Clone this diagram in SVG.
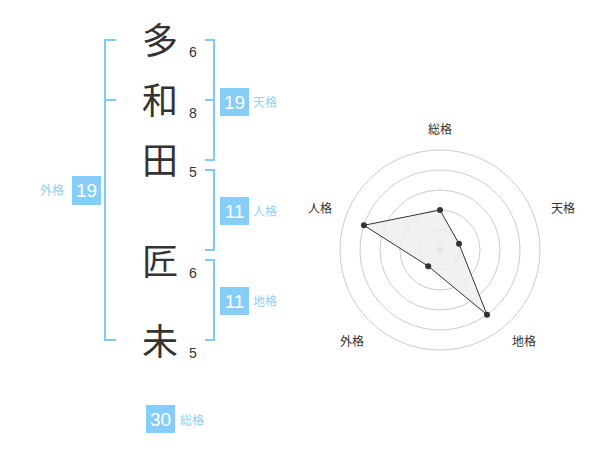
<svg xmlns="http://www.w3.org/2000/svg" width="600" height="470" viewBox="0 0 600 470">
<style>
.ch{font-family:"Noto Sans CJK JP","Noto Sans CJK SC",sans-serif;font-size:36px;fill:#333;text-anchor:middle}
.num{font-family:"Liberation Sans",Arial,sans-serif;font-size:14px;fill:#333;text-anchor:middle}
.br{fill:none;stroke:#7fc9f7;stroke-width:2}
.box{fill:#86cdf7}
.bn{font-family:"Liberation Sans",Arial,sans-serif;font-size:19px;fill:#fff;text-anchor:middle}
.lb{font-family:"Noto Sans CJK JP","Noto Sans CJK SC",sans-serif;font-size:12px;fill:#8fd0f5}
.rl{font-family:"Noto Sans CJK JP","Noto Sans CJK SC",sans-serif;font-size:12px;fill:#333;text-anchor:middle}
.ring{fill:none;stroke:#ccc;stroke-width:1}
.pt{fill:#333}
</style>
<rect width="600" height="470" fill="#fff"/>
<g id="name-chars">
<g id="c1"><text class="ch" x="160" y="54">多</text><text class="num" x="193" y="57">6</text></g>
<g id="c2"><text class="ch" x="160" y="114">和</text><text class="num" x="193" y="118">8</text></g>
<g id="c3"><text class="ch" x="160" y="174">田</text><text class="num" x="193" y="177">5</text></g>
<g id="c4"><text class="ch" x="160" y="275">匠</text><text class="num" x="193" y="278">6</text></g>
<g id="c5"><text class="ch" x="160" y="355">未</text><text class="num" x="193" y="358">5</text></g>
</g>
<g id="connectors">
<path class="br" d="M116,40 H105 V340 H116 M105,100 H116"/>
<path class="br" d="M205,40 H214 V160 H205 M205,100 H214"/>
<path class="br" d="M205,170 H214 V250 H205"/>
<path class="br" d="M205,260 H214 V340 H205"/>
</g>
<g id="gaikaku"><rect class="box" x="72" y="176" width="29" height="29"/><text class="bn" x="86.5" y="197">19</text><text class="lb" x="40" y="195">外格</text></g>
<g id="tenkaku"><rect class="box" x="220" y="88" width="29" height="28"/><text class="bn" x="234.5" y="109">19</text><text class="lb" x="253" y="107">天格</text></g>
<g id="jinkaku"><rect class="box" x="220" y="197" width="29" height="28"/><text class="bn" x="234.5" y="218">11</text><text class="lb" x="253" y="216">人格</text></g>
<g id="chikaku"><rect class="box" x="220" y="287" width="29" height="28"/><text class="bn" x="234.5" y="308">11</text><text class="lb" x="253" y="306">地格</text></g>
<g id="soukaku"><rect class="box" x="146" y="405" width="29" height="28"/><text class="bn" x="160.5" y="426">30</text><text class="lb" x="180" y="425">総格</text></g>
<g id="radar">
<circle class="ring" cx="440" cy="250" r="20"/>
<circle class="ring" cx="440" cy="250" r="40"/>
<circle class="ring" cx="440" cy="250" r="60"/>
<circle class="ring" cx="440" cy="250" r="80"/>
<circle class="ring" cx="440" cy="250" r="100"/>
<circle cx="440" cy="250" r="3.5" fill="#ccc"/>
<polygon points="440,210 459,243.8 487,314.7 428.2,266.2 363.9,225.3" fill="#eee" fill-opacity="0.8" stroke="#333" stroke-width="1"/>
<circle class="pt" cx="440" cy="210" r="3"/>
<circle class="pt" cx="459" cy="243.8" r="3"/>
<circle class="pt" cx="487" cy="314.7" r="3"/>
<circle class="pt" cx="428.2" cy="266.2" r="3"/>
<circle class="pt" cx="363.9" cy="225.3" r="3"/>
<text class="rl" x="440" y="134">総格</text>
<text class="rl" x="563" y="213">天格</text>
<text class="rl" x="320" y="213">人格</text>
<text class="rl" x="352" y="346">外格</text>
<text class="rl" x="524" y="346">地格</text>
</g>
</svg>
